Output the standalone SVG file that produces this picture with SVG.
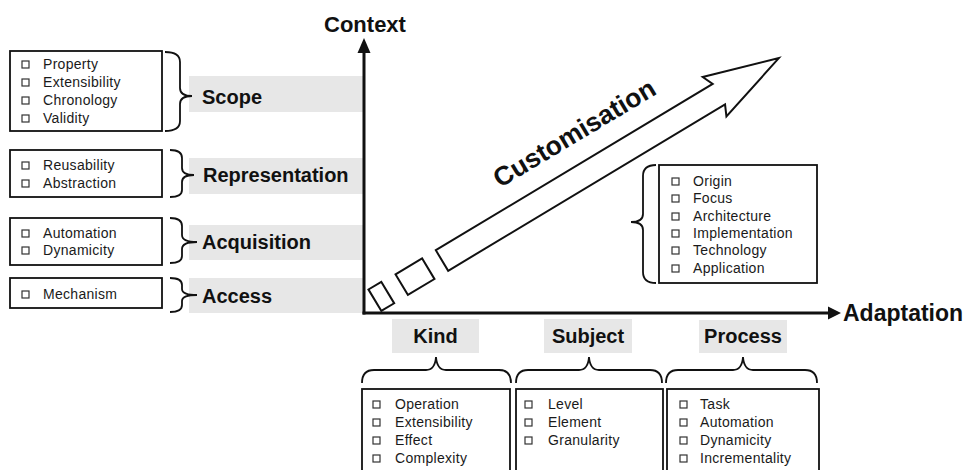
<svg xmlns="http://www.w3.org/2000/svg" width="968" height="470" viewBox="0 0 968 470">
<defs>
<style>
.band{fill:#e7e7e7}
.box{fill:#fff;stroke:#111;stroke-width:1.8}
.cb{fill:#fff;stroke:#333;stroke-width:1.2}
.it{font-family:"Liberation Sans",Arial,sans-serif;font-size:14px;fill:#1a1a1a;letter-spacing:0.3px}
.lb{font-family:"Liberation Sans",Arial,sans-serif;font-size:20px;font-weight:bold;fill:#111}
.ax{font-family:"Liberation Sans",Arial,sans-serif;font-weight:bold;fill:#111}
.br{fill:none;stroke:#111;stroke-width:1.8}
.axis{stroke:#111;stroke-width:3;fill:none}
.shape{fill:#fff;stroke:#111;stroke-width:2;stroke-linejoin:miter}
</style>
<marker id="ah" viewBox="0 0 12 12" refX="11" refY="6" markerWidth="12" markerHeight="12" markerUnits="userSpaceOnUse" orient="auto">
<path d="M0,0 L12,6 L0,12 z" fill="#111"/>
</marker>
</defs>
<rect width="968" height="470" fill="#fff"/>

<!-- gray label bands -->
<g id="bands">
<rect class="band" x="189" y="76" width="174" height="36"/>
<rect class="band" x="189" y="158" width="174" height="36"/>
<rect class="band" x="189" y="225" width="174" height="35"/>
<rect class="band" x="189" y="278" width="174" height="35"/>
<rect class="band" x="392" y="319" width="87" height="34"/>
<rect class="band" x="544" y="319" width="88" height="34"/>
<rect class="band" x="699" y="320" width="88" height="33"/>
</g>

<g id="connectors">
<line class="axis" x1="364" y1="314.5" x2="364" y2="52"/>
<path d="M364,38 L370.5,53 L357.5,53 z" fill="#111"/>
<line class="axis" x1="362.5" y1="313" x2="829" y2="313"/>
<path d="M841,313 L828,306.5 L828,319.5 z" fill="#111"/>
<!-- left braces -->
<path class="br" d="M165,52 Q180,52 180,62 L180,88 Q180,96 192,96 Q180,96 180,104 L180,121 Q180,131 165,131"/>
<path class="br" d="M170,150 Q182,150 182,158 L182,168 Q182,175 194,175 Q182,175 182,182 L182,190 Q182,197 170,197"/>
<path class="br" d="M170,218 Q182,218 182,226 L182,235 Q182,242 197,242 Q182,242 182,249 L182,256 Q182,263 170,263"/>
<path class="br" d="M170,278 Q182,278 182,285 L182,289 Q182,295 197,295 Q182,295 182,301 L182,305 Q182,312 170,312"/>
<!-- right brace -->
<path class="br" d="M656,165 Q643,165 643,176 L643,214 Q643,222 631,222 Q643,222 643,230 L643,272 Q643,283 656,283"/>
<!-- bottom braces -->
<path class="br" d="M362,383 Q362,370 374,370 L426,370 Q435,370 436,357 Q437,370 446,370 L499,370 Q511,370 511,383"/>
<path class="br" d="M516,383 Q516,370 528,370 L579,370 Q588,370 589,357 Q590,370 599,370 L650,370 Q662,370 662,383"/>
<path class="br" d="M666,383 Q666,370 678,370 L733,370 Q742,370 743,357 Q744,370 753,370 L805,370 Q817,370 817,383"/>
</g>

<g id="axis-labels">
<text class="ax" x="365" y="32" font-size="22" text-anchor="middle">Context</text>
<text class="ax" x="843" y="321" font-size="23">Adaptation</text>
</g>

<g id="customisation" transform="translate(442,260.5) rotate(-31)">
<polygon class="shape" points="-78,-13 -63,-13 -63,12 -78,12"/>
<polygon class="shape" points="-47,-12 -16,-12 -16,12 -47,12"/>
<polygon class="shape" points="0,-12 323,-12 318,-23 393,0 318,23 323,12 0,12"/>
<text class="ax" x="87" y="-32" font-size="26.5">Customisation</text>
</g>

<g id="scope">
<rect class="box" x="10" y="51" width="152" height="80"/>
<rect class="cb" x="22" y="61" width="7" height="7"/><text class="it" x="43" y="69">Property</text>
<rect class="cb" x="22" y="79" width="7" height="7"/><text class="it" x="43" y="87">Extensibility</text>
<rect class="cb" x="22" y="97" width="7" height="7"/><text class="it" x="43" y="105">Chronology</text>
<rect class="cb" x="22" y="115" width="7" height="7"/><text class="it" x="43" y="123">Validity</text>
<text class="lb" x="202" y="104">Scope</text>
</g>

<g id="representation">
<rect class="box" x="10" y="150" width="152" height="47"/>
<rect class="cb" x="22" y="162" width="7" height="7"/><text class="it" x="43" y="170">Reusability</text>
<rect class="cb" x="22" y="180" width="7" height="7"/><text class="it" x="43" y="188">Abstraction</text>
<text class="lb" x="203" y="182">Representation</text>
</g>

<g id="acquisition">
<rect class="box" x="10" y="218" width="152" height="47"/>
<rect class="cb" x="22" y="230" width="7" height="7"/><text class="it" x="43" y="238">Automation</text>
<rect class="cb" x="22" y="247" width="7" height="7"/><text class="it" x="43" y="255">Dynamicity</text>
<text class="lb" x="202" y="249">Acquisition</text>
</g>

<g id="access">
<rect class="box" x="10" y="278" width="152" height="30"/>
<rect class="cb" x="22" y="291" width="7" height="7"/><text class="it" x="43" y="299">Mechanism</text>
<text class="lb" x="202" y="303">Access</text>
</g>

<g id="customisation-facets">
<rect class="box" x="659" y="165" width="158" height="118"/>
<rect class="cb" x="672" y="178" width="7" height="7"/><text class="it" x="693" y="186">Origin</text>
<rect class="cb" x="672" y="195" width="7" height="7"/><text class="it" x="693" y="203">Focus</text>
<rect class="cb" x="672" y="213" width="7" height="7"/><text class="it" x="693" y="221">Architecture</text>
<rect class="cb" x="672" y="230" width="7" height="7"/><text class="it" x="693" y="238">Implementation</text>
<rect class="cb" x="672" y="247" width="7" height="7"/><text class="it" x="693" y="255">Technology</text>
<rect class="cb" x="672" y="265" width="7" height="7"/><text class="it" x="693" y="273">Application</text>
</g>

<g id="kind">
<text class="lb" x="435.5" y="343" text-anchor="middle">Kind</text>
<rect class="box" x="362" y="389" width="148" height="95"/>
<rect class="cb" x="373" y="401" width="7" height="7"/><text class="it" x="395" y="409">Operation</text>
<rect class="cb" x="373" y="419" width="7" height="7"/><text class="it" x="395" y="427">Extensibility</text>
<rect class="cb" x="373" y="437" width="7" height="7"/><text class="it" x="395" y="445">Effect</text>
<rect class="cb" x="373" y="455" width="7" height="7"/><text class="it" x="395" y="463">Complexity</text>
</g>

<g id="subject">
<text class="lb" x="588" y="343" text-anchor="middle">Subject</text>
<rect class="box" x="516" y="389" width="147" height="95"/>
<rect class="cb" x="525" y="401" width="7" height="7"/><text class="it" x="548" y="409">Level</text>
<rect class="cb" x="525" y="419" width="7" height="7"/><text class="it" x="548" y="427">Element</text>
<rect class="cb" x="525" y="437" width="7" height="7"/><text class="it" x="548" y="445">Granularity</text>
</g>

<g id="process">
<text class="lb" x="743" y="343" text-anchor="middle">Process</text>
<rect class="box" x="667" y="389" width="152" height="95"/>
<rect class="cb" x="680" y="401" width="7" height="7"/><text class="it" x="700" y="409">Task</text>
<rect class="cb" x="680" y="419" width="7" height="7"/><text class="it" x="700" y="427">Automation</text>
<rect class="cb" x="680" y="437" width="7" height="7"/><text class="it" x="700" y="445">Dynamicity</text>
<rect class="cb" x="680" y="455" width="7" height="7"/><text class="it" x="700" y="463">Incrementality</text>
</g>
</svg>
